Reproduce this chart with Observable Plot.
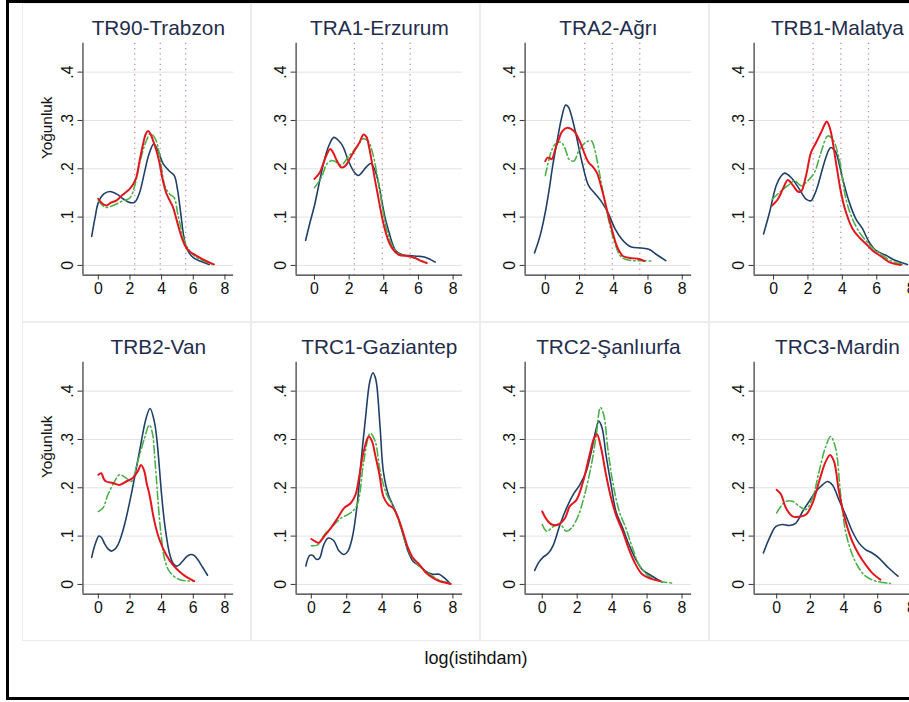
<!DOCTYPE html>
<html>
<head>
<meta charset="utf-8">
<script src="https://cdn.jsdelivr.net/npm/d3@7"></script>
<script src="https://cdn.jsdelivr.net/npm/@observablehq/plot@0.6"></script>
<style>
  html, body { margin: 0; padding: 0; background: #fff; }
  #root { position: relative; width: 909px; height: 702px; overflow: hidden; background: #fff;
          font-family: "Liberation Sans", Arial, sans-serif; }
  .frame { position: absolute; left: 6px; top: 0; width: 1000px; height: 700px;
           box-sizing: border-box; border: 3px solid #000; }
  .panel { position: absolute; box-sizing: border-box; border: 1px solid #ececec; background: #fff; }
  .panel svg { overflow: visible; position: absolute; left: -1px; top: -1px; }
  .xtitle { position: absolute; left: 0; width: 952px; top: 648px; text-align: center;
            font-size: 18px; line-height: 20px; color: #111; }
</style>
</head>
<body>
<div id="root">
  <div class="frame"></div>
  <div class="xtitle">log(istihdam)</div>
</div>
<script>
// ---------- data ----------
const panelTitles = ["TR90-Trabzon", "TRA1-Erzurum", "TRA2-Ağrı", "TRB1-Malatya",
                     "TRB2-Van", "TRC1-Gaziantep", "TRC2-Şanlıurfa", "TRC3-Mardin"];
const yLabel = "Yoğunluk";
const xLabel = "log(istihdam)";
const xTicks = [0, 2, 4, 6, 8];
const yTicks = [0, 0.1, 0.2, 0.3, 0.4];
const thresholds = [2.303, 3.912, 5.521]; // ln(10), ln(50), ln(250)

const TR90_navy = [[-0.42,0.06],[-0.2,0.1],[0,0.13],[0.35,0.148],[0.75,0.153],[1.2,0.147],[1.6,0.137],[2.0,0.13],[2.3,0.131],[2.6,0.15],[2.9,0.19],[3.2,0.23],[3.5,0.251],[3.8,0.235],[4.1,0.21],[4.5,0.195],[4.8,0.186],[5.0,0.158],[5.2,0.11],[5.4,0.06],[5.6,0.034],[6.0,0.016],[6.5,0.008],[7.0,0.002]];
const TR90_red = [[0,0.138],[0.25,0.128],[0.5,0.124],[0.8,0.13],[1.13,0.134],[1.5,0.145],[1.97,0.158],[2.2,0.168],[2.4,0.182],[2.6,0.215],[2.8,0.247],[3.0,0.272],[3.15,0.278],[3.3,0.272],[3.44,0.26],[3.65,0.24],[3.86,0.213],[4.05,0.18],[4.28,0.151],[4.5,0.135],[4.7,0.122],[4.9,0.1],[5.1,0.076],[5.3,0.055],[5.53,0.038],[5.8,0.028],[6.16,0.021],[6.7,0.011],[7.3,0.002]];
const TR90_green = [[0,0.135],[0.25,0.125],[0.5,0.12],[1.0,0.125],[1.5,0.133],[2.0,0.14],[2.3,0.165],[2.6,0.21],[3.0,0.255],[3.3,0.273],[3.6,0.262],[3.8,0.24],[4.0,0.2],[4.2,0.165],[4.5,0.148],[4.8,0.14],[5.0,0.11],[5.2,0.08],[5.5,0.045],[6.0,0.022],[6.6,0.01],[7.2,0.003]];

const TRA1_navy = [[-0.51,0.052],[-0.25,0.09],[0,0.124],[0.49,0.206],[0.8,0.245],[1.12,0.265],[1.4,0.258],[1.63,0.247],[2.0,0.213],[2.3,0.193],[2.53,0.186],[2.75,0.193],[2.97,0.203],[3.25,0.211],[3.54,0.192],[3.75,0.16],[3.92,0.127],[4.1,0.095],[4.3,0.069],[4.5,0.045],[4.68,0.031],[5.0,0.023],[5.25,0.021],[5.6,0.02],[6.0,0.019],[6.39,0.017],[6.7,0.012],[6.96,0.007]];
const TRA1_red = [[0,0.179],[0.3,0.192],[0.5,0.21],[0.68,0.227],[0.91,0.241],[1.1,0.232],[1.25,0.22],[1.54,0.203],[1.75,0.205],[1.92,0.213],[2.1,0.225],[2.3,0.237],[2.59,0.254],[2.83,0.271],[3.0,0.266],[3.15,0.245],[3.35,0.206],[3.5,0.175],[3.63,0.151],[3.92,0.096],[4.1,0.07],[4.3,0.048],[4.6,0.03],[4.87,0.022],[5.44,0.019],[5.82,0.015],[6.1,0.01],[6.48,0.005]];
const TRA1_green = [[0,0.161],[0.4,0.182],[0.72,0.21],[1.0,0.217],[1.16,0.216],[1.54,0.208],[2.0,0.227],[2.49,0.247],[2.78,0.262],[3.0,0.26],[3.16,0.254],[3.3,0.24],[3.44,0.22],[3.6,0.19],[3.73,0.165],[4.0,0.103],[4.2,0.07],[4.5,0.04],[4.87,0.024],[5.4,0.019],[5.9,0.014],[6.4,0.006]];

const TRA2_navy = [[-0.63,0.026],[-0.4,0.05],[-0.25,0.069],[0.0,0.11],[0.23,0.158],[0.45,0.21],[0.71,0.261],[0.95,0.305],[1.19,0.332],[1.35,0.328],[1.48,0.316],[1.77,0.275],[2.15,0.213],[2.53,0.165],[2.92,0.148],[3.3,0.131],[3.69,0.107],[4.07,0.076],[4.45,0.055],[4.75,0.044],[5.03,0.038],[5.6,0.036],[6.08,0.033],[6.56,0.021],[7.04,0.01]];
const TRA2_red = [[0,0.216],[0.13,0.223],[0.25,0.222],[0.38,0.22],[0.61,0.244],[0.8,0.262],[1.0,0.278],[1.29,0.285],[1.67,0.278],[1.96,0.261],[2.15,0.245],[2.34,0.227],[2.55,0.212],[2.73,0.206],[3.01,0.192],[3.3,0.158],[3.59,0.117],[3.88,0.076],[4.17,0.041],[4.35,0.028],[4.55,0.019],[5.03,0.015],[5.41,0.014],[5.8,0.009]];
const TRA2_green = [[0,0.186],[0.33,0.234],[0.55,0.25],[0.71,0.254],[0.9,0.255],[1.09,0.247],[1.25,0.232],[1.38,0.22],[1.67,0.216],[1.96,0.237],[2.34,0.254],[2.69,0.258],[2.85,0.245],[3.01,0.22],[3.3,0.165],[3.69,0.096],[4.07,0.045],[4.45,0.017],[5.03,0.01],[5.6,0.01],[6.18,0.009]];

const TRB1_navy = [[-0.58,0.065],[-0.23,0.11],[0.15,0.165],[0.4,0.183],[0.64,0.191],[1.02,0.182],[1.5,0.158],[1.89,0.137],[2.18,0.134],[2.4,0.148],[2.57,0.165],[2.95,0.213],[3.2,0.238],[3.34,0.244],[3.5,0.24],[3.63,0.234],[4.02,0.179],[4.4,0.131],[4.79,0.096],[5.17,0.076],[5.56,0.048],[5.95,0.031],[6.53,0.021],[7.1,0.01],[7.78,0.002]];
const TRB1_red = [[-0.08,0.124],[0.25,0.137],[0.54,0.158],[0.83,0.177],[1.12,0.166],[1.41,0.153],[1.6,0.153],[1.89,0.186],[2.18,0.234],[2.47,0.254],[2.76,0.275],[2.95,0.29],[3.09,0.298],[3.2,0.292],[3.34,0.275],[3.63,0.213],[3.92,0.151],[4.21,0.11],[4.59,0.076],[4.98,0.058],[5.37,0.045],[5.75,0.031],[6.24,0.019],[6.72,0.007],[7.39,0.001]];
const TRB1_green = [[-0.08,0.137],[0.35,0.151],[0.83,0.165],[1.22,0.175],[1.6,0.165],[1.99,0.175],[2.37,0.192],[2.76,0.234],[3.15,0.268],[3.44,0.261],[3.82,0.22],[4.21,0.137],[4.59,0.096],[5.0,0.068],[5.4,0.05],[5.8,0.035],[6.3,0.022],[6.8,0.01],[7.5,0.002]];

const TRB2_navy = [[-0.42,0.056],[-0.2,0.083],[0.04,0.1],[0.2,0.097],[0.4,0.084],[0.6,0.074],[0.82,0.069],[1.05,0.073],[1.24,0.082],[1.45,0.1],[1.66,0.124],[2.08,0.186],[2.6,0.275],[3.02,0.344],[3.27,0.364],[3.54,0.337],[3.7,0.3],[3.86,0.241],[4.0,0.185],[4.17,0.131],[4.3,0.1],[4.49,0.065],[4.7,0.045],[4.91,0.038],[5.1,0.04],[5.32,0.048],[5.6,0.058],[5.85,0.062],[6.05,0.06],[6.27,0.052],[6.6,0.035],[6.9,0.019]];
const TRB2_red = [[0,0.227],[0.19,0.23],[0.35,0.218],[0.5,0.213],[0.92,0.21],[1.34,0.206],[1.76,0.213],[2.18,0.22],[2.49,0.234],[2.7,0.247],[2.91,0.234],[3.05,0.21],[3.23,0.186],[3.54,0.131],[3.86,0.093],[4.28,0.062],[4.7,0.041],[5.12,0.027],[5.64,0.014],[6.06,0.007]];
const TRB2_green = [[0,0.151],[0.29,0.158],[0.61,0.186],[1.03,0.213],[1.34,0.227],[1.76,0.22],[2.08,0.213],[2.49,0.254],[2.91,0.302],[3.23,0.33],[3.44,0.309],[3.55,0.27],[3.65,0.227],[3.86,0.137],[4.05,0.08],[4.17,0.055],[4.49,0.027],[5.12,0.01],[6.06,0.007]];

const TRC1_navy = [[-0.31,0.038],[-0.09,0.06],[0.09,0.06],[0.28,0.052],[0.46,0.054],[0.7,0.082],[0.96,0.096],[1.26,0.091],[1.57,0.069],[1.85,0.062],[2.07,0.069],[2.31,0.096],[2.59,0.165],[2.81,0.254],[3.06,0.344],[3.3,0.419],[3.48,0.438],[3.6,0.43],[3.7,0.412],[3.89,0.323],[4.07,0.234],[4.35,0.186],[4.63,0.162],[4.91,0.137],[5.19,0.103],[5.46,0.069],[5.74,0.048],[6.11,0.038],[6.48,0.027],[6.85,0.021],[7.22,0.021],[7.5,0.014],[7.87,0.001]];
const TRC1_red = [[0,0.094],[0.22,0.089],[0.41,0.086],[0.74,0.1],[1.11,0.117],[1.48,0.137],[1.85,0.158],[2.22,0.168],[2.5,0.186],[2.69,0.22],[2.96,0.275],[3.24,0.306],[3.43,0.296],[3.61,0.268],[3.85,0.227],[4.07,0.182],[4.35,0.165],[4.63,0.158],[4.91,0.137],[5.19,0.107],[5.46,0.076],[5.74,0.055],[6.11,0.041],[6.48,0.024],[6.85,0.014],[7.22,0.007],[7.87,0.001]];
const TRC1_green = [[0,0.08],[0.37,0.082],[0.74,0.103],[1.11,0.117],[1.67,0.137],[2.22,0.148],[2.59,0.165],[2.96,0.254],[3.33,0.313],[3.61,0.296],[3.89,0.234],[4.26,0.186],[4.63,0.162],[5.0,0.124],[5.37,0.082],[5.74,0.052],[6.48,0.027],[7.22,0.009],[7.87,0.002]];

const TRC2_navy = [[-0.43,0.029],[-0.21,0.045],[0.04,0.056],[0.36,0.065],[0.64,0.082],[1.02,0.124],[1.39,0.158],[1.77,0.186],[2.15,0.206],[2.52,0.234],[2.81,0.275],[3.05,0.316],[3.24,0.338],[3.43,0.323],[3.65,0.268],[3.94,0.206],[4.22,0.151],[4.6,0.117],[4.97,0.082],[5.35,0.052],[5.72,0.031],[6.2,0.019],[6.85,0.005]];
const TRC2_red = [[0,0.151],[0.26,0.134],[0.55,0.124],[0.92,0.124],[1.3,0.137],[1.58,0.162],[1.96,0.175],[2.34,0.213],[2.71,0.268],[2.96,0.302],[3.13,0.311],[3.37,0.282],[3.65,0.227],[3.94,0.179],[4.22,0.144],[4.6,0.11],[4.97,0.072],[5.35,0.041],[5.72,0.021],[6.2,0.012],[6.76,0.007]];
const TRC2_green = [[0,0.124],[0.26,0.11],[0.64,0.12],[1.02,0.124],[1.39,0.11],[1.68,0.117],[2.05,0.141],[2.43,0.186],[2.81,0.247],[3.09,0.309],[3.33,0.366],[3.52,0.351],[3.75,0.282],[4.03,0.213],[4.41,0.151],[4.78,0.117],[5.16,0.076],[5.54,0.041],[6.1,0.017],[6.67,0.007],[7.42,0.003]];

const TRC3_navy = [[-0.79,0.065],[-0.43,0.096],[-0.04,0.12],[0.35,0.124],[0.75,0.122],[1.14,0.127],[1.54,0.151],[1.93,0.172],[2.32,0.192],[2.72,0.206],[3.01,0.213],[3.31,0.206],[3.7,0.175],[4.09,0.144],[4.49,0.11],[4.88,0.086],[5.28,0.072],[5.67,0.065],[6.06,0.055],[6.65,0.034],[7.2,0.017]];
const TRC3_red = [[0,0.196],[0.26,0.186],[0.55,0.158],[0.94,0.141],[1.34,0.14],[1.73,0.144],[2.13,0.168],[2.52,0.213],[2.91,0.254],[3.17,0.268],[3.41,0.254],[3.7,0.192],[4.09,0.131],[4.49,0.089],[4.88,0.062],[5.28,0.041],[5.67,0.024],[6.16,0.01]];
const TRC3_green = [[0,0.148],[0.26,0.162],[0.55,0.172],[0.94,0.172],[1.34,0.162],[1.73,0.155],[2.13,0.179],[2.52,0.234],[2.91,0.285],[3.21,0.306],[3.5,0.282],[3.8,0.186],[4.09,0.11],[4.49,0.062],[4.88,0.034],[5.28,0.017],[5.87,0.007],[6.75,0.002]];

// ---------- assembly ----------
const panels = [
  {navy: TR90_navy, red: TR90_red, green: TR90_green},
  {navy: TRA1_navy, red: TRA1_red, green: TRA1_green},
  {navy: TRA2_navy, red: TRA2_red, green: TRA2_green},
  {navy: TRB1_navy, red: TRB1_red, green: TRB1_green},
  {navy: TRB2_navy, red: TRB2_red, green: TRB2_green},
  {navy: TRC1_navy, red: TRC1_red, green: TRC1_green},
  {navy: TRC2_navy, red: TRC2_red, green: TRC2_green},
  {navy: TRC3_navy, red: TRC3_red, green: TRC3_green}
].map((p, i) => ({...p, title: panelTitles[i]}));

const root = document.getElementById("root");
const PW = 229, PH = 319;
const colLeft = [22, 251, 480, 709];
const rowTop = [3, 322];
const yDomain = [-0.02, 0.46];
const FONT = '"Liberation Sans", Arial, sans-serif';

panels.forEach((p, i) => {
  const row = Math.floor(i / 4), col = i % 4;
  const firstCol = col === 0;
  const all = [...p.navy, ...p.red, ...p.green];
  const xDomain = [d3.min(all, d => d[0]) - 0.55, 8.55];
  const toRows = arr => arr.map(([x, y]) => ({x, y}));

  const marks = [
    Plot.gridY(yTicks, {stroke: "#e2e2e2", strokeOpacity: 1, strokeWidth: 1})
  ];
  if (row === 0) {
    marks.push(Plot.ruleX(thresholds, {stroke: "#c0828e", strokeWidth: 1.2, strokeDasharray: "1.3,4"}));
  }
  marks.push(
    Plot.line(toRows(p.navy), {x: "x", y: "y", stroke: "#1f3f66", strokeWidth: 1.6, curve: "catmull-rom"}),
    Plot.line(toRows(p.green), {x: "x", y: "y", stroke: "#4cb04a", strokeWidth: 1.6, strokeDasharray: "8,3,1.5,3", curve: "catmull-rom"}),
    Plot.line(toRows(p.red), {x: "x", y: "y", stroke: "#e3161d", strokeWidth: 2, curve: "catmull-rom"}),
    Plot.ruleX([xDomain[0]], {stroke: "#333", strokeWidth: 1.2}),
    Plot.ruleY([yDomain[0]], {stroke: "#333", strokeWidth: 1.2}),
    Plot.axisX(xTicks, {tickSize: 5, tickPadding: 3, fontSize: 16, label: null, stroke: "#333"}),
    Plot.axisY(yTicks, {tickSize: 5, tickPadding: 5, tickRotate: -90, fontSize: 16, label: null, stroke: "#333",
      tickFormat: d => d === 0 ? "0" : d3.format(".1f")(d).replace(/^0/, "")}),
    Plot.text([p.title], {frameAnchor: "top", dy: -8, lineAnchor: "bottom", fontSize: 21, fill: "#1f2d4d"})
  );
  if (firstCol) {
    marks.push(Plot.text([yLabel], {frameAnchor: "left", dx: -36, rotate: -90, fontSize: 15.5, fill: "#111"}));
  }

  const chart = Plot.plot({
    width: PW, height: PH,
    marginLeft: firstCol ? 61 : 45, marginRight: 16, marginTop: 40, marginBottom: 45,
    x: {domain: xDomain}, y: {domain: yDomain},
    style: {fontFamily: FONT, color: "#111", background: "transparent", overflow: "visible"},
    marks
  });

  const div = document.createElement("div");
  div.className = "panel";
  div.style.left = colLeft[col] + "px";
  div.style.top = rowTop[row] + "px";
  div.style.width = PW + "px";
  div.style.height = PH + "px";
  div.appendChild(chart);
  root.appendChild(div);
});
</script>
</body>
</html>
